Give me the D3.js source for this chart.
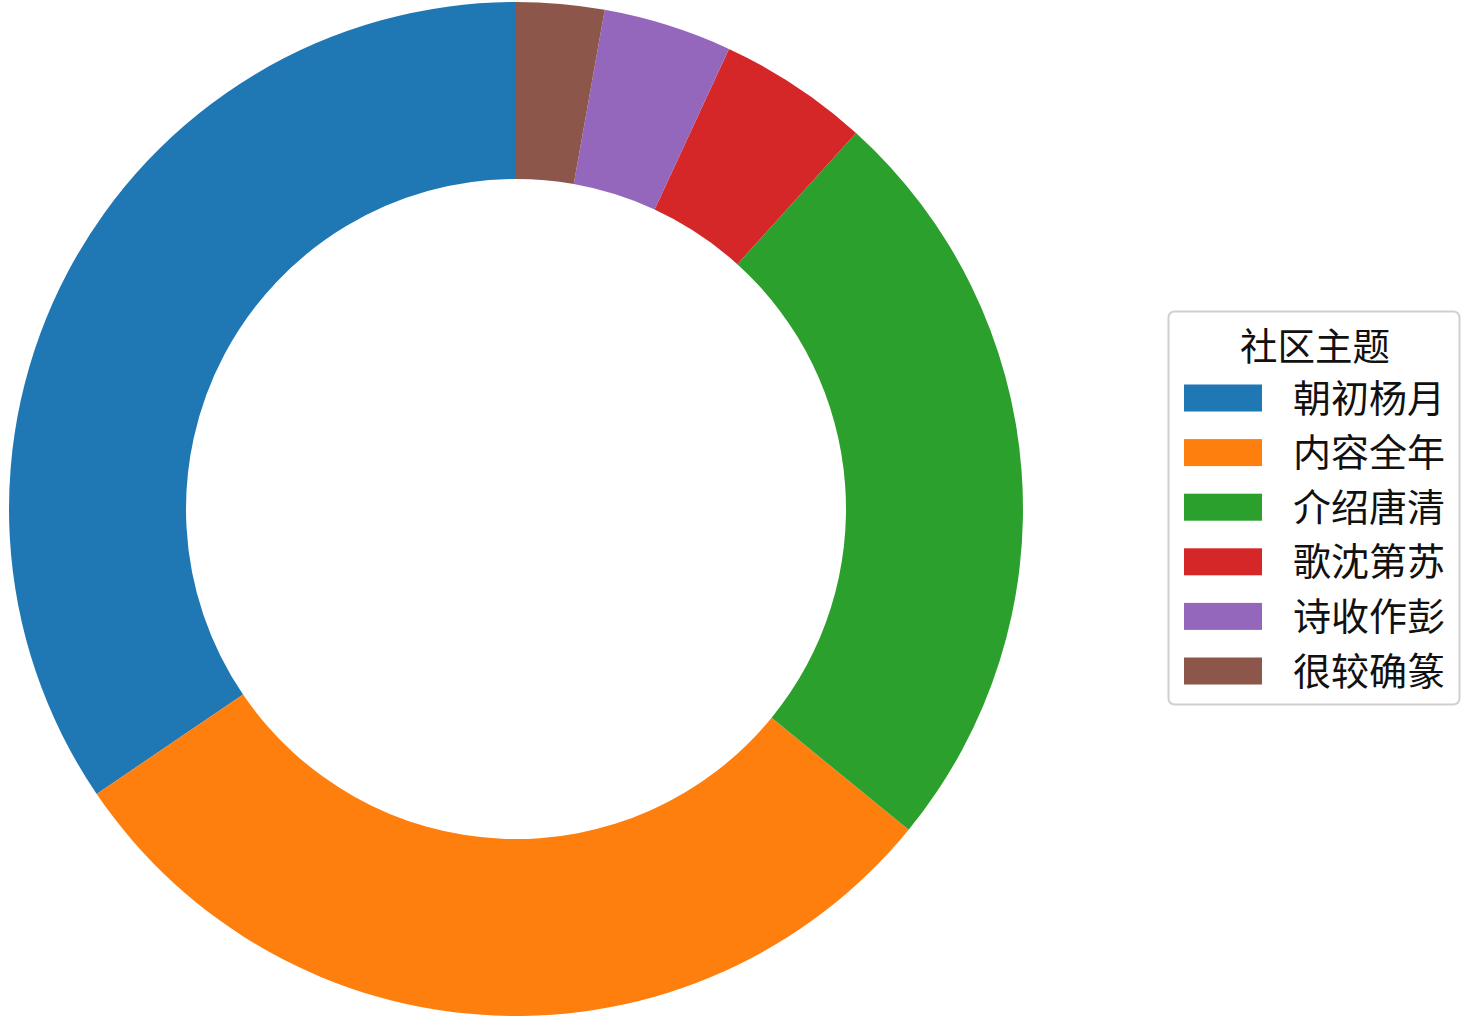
<!DOCTYPE html>
<html>
<head>
<meta charset="utf-8">
<script src="https://cdn.jsdelivr.net/npm/d3@7"></script>
<style>
  body { margin: 0; background: #fff; }
  text { font-family: "Noto Sans CJK SC", "Noto Sans", sans-serif; }
</style>
</head>
<body>
<div id="chart"></div>
<script>
// DATA
const categories = ["朝初杨月", "内容全年", "介绍唐清", "歌沈第苏", "诗收作彭", "很较确篆"];
const shares = [34.5, 29.6, 24.2, 4.8, 4.1, 2.8];
const colors = ["#1f77b4", "#ff7f0e", "#2ca02c", "#d62728", "#9467bd", "#8c564b"];
const legendTitle = "社区主题";

const data = categories.map((c, i) => ({ key: c, value: shares[i] }));

// SVG
const width = 1467, height = 1030;
const svg = d3.select("#chart")
  .append("svg")
    .attr("width", width)
    .attr("height", height);

const cx = 516, cy = 509;
const outerR = 507, innerR = 330;

const cs = d3.scaleOrdinal()
  .domain(categories)
  .range(colors);

// matplotlib style: start at top, counterclockwise
const pie = d3.pie()
  .sort(null)
  .value(d => d.value)
  .startAngle(0)
  .endAngle(-2 * Math.PI);

const arc = d3.arc()
  .innerRadius(innerR)
  .outerRadius(outerR);

const g = svg.append("g")
  .attr("transform", `translate(${cx},${cy})`);

g.selectAll("path")
  .data(pie(data))
  .enter()
  .append("path")
  .attr("d", arc)
  .attr("fill", d => cs(d.data.key));

// LEGEND
const lg = svg.append("g").attr("class", "legend");

lg.append("rect")
  .attr("x", 1168.5)
  .attr("y", 311.5)
  .attr("width", 291)
  .attr("height", 393)
  .attr("rx", 6)
  .attr("fill", "#fff")
  .attr("stroke", "#d0d0d0")
  .attr("stroke-width", 2);

lg.append("text")
  .attr("x", 1315)
  .attr("y", 360)
  .attr("text-anchor", "middle")
  .style("font-size", "37.5px")
  .style("fill", "#111")
  .text(legendTitle);

const rowY = d3.scaleLinear().domain([0, 1]).range([398, 452.6]);

const item = lg.selectAll("g.item")
  .data(data)
  .enter()
  .append("g")
  .attr("class", "item");

item.append("rect")
  .attr("x", 1184)
  .attr("y", (d, i) => rowY(i) - 13.5)
  .attr("width", 78)
  .attr("height", 27)
  .attr("fill", d => cs(d.key));

item.append("text")
  .attr("x", 1293)
  .attr("y", (d, i) => rowY(i) + 13.5)
  .style("font-size", "38px")
  .style("fill", "#111")
  .text(d => d.key);
</script>
</body>
</html>
